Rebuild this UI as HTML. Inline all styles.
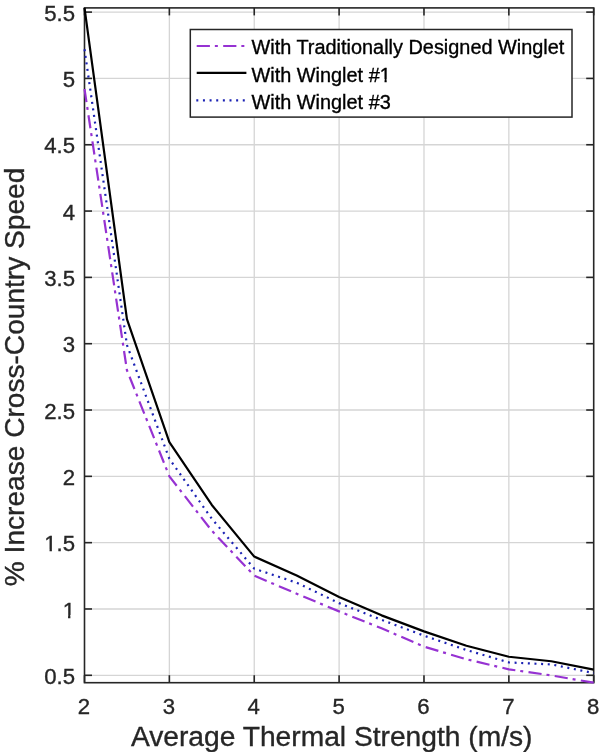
<!DOCTYPE html>
<html><head><meta charset="utf-8"><style>
html,body{margin:0;padding:0;background:#fff;}
svg{display:block;}
text{font-family:"Liberation Sans",Arial,Helvetica,sans-serif;fill:#262626;stroke:#262626;stroke-width:0.35px;}
text.lg{fill:#000;stroke:#000;}
</style></head><body>
<svg width="602" height="752" viewBox="0 0 602 752">
<rect width="602" height="752" fill="#fff"/>

<g stroke="#d5d5d5" stroke-width="1.3"><line x1="169.37" y1="7.9" x2="169.37" y2="682.7"/><line x1="254.24" y1="7.9" x2="254.24" y2="682.7"/><line x1="339.11" y1="7.9" x2="339.11" y2="682.7"/><line x1="423.98" y1="7.9" x2="423.98" y2="682.7"/><line x1="508.85" y1="7.9" x2="508.85" y2="682.7"/><line x1="84.5" y1="675.30" x2="593.7" y2="675.30"/><line x1="84.5" y1="608.98" x2="593.7" y2="608.98"/><line x1="84.5" y1="542.66" x2="593.7" y2="542.66"/><line x1="84.5" y1="476.34" x2="593.7" y2="476.34"/><line x1="84.5" y1="410.02" x2="593.7" y2="410.02"/><line x1="84.5" y1="343.70" x2="593.7" y2="343.70"/><line x1="84.5" y1="277.38" x2="593.7" y2="277.38"/><line x1="84.5" y1="211.06" x2="593.7" y2="211.06"/><line x1="84.5" y1="144.74" x2="593.7" y2="144.74"/><line x1="84.5" y1="78.42" x2="593.7" y2="78.42"/><line x1="84.5" y1="12.10" x2="593.7" y2="12.10"/></g>
<g stroke="#262626" stroke-width="1.6"><line x1="84.50" y1="682.7" x2="84.50" y2="675.2"/><line x1="84.50" y1="7.9" x2="84.50" y2="15.4"/><line x1="169.37" y1="682.7" x2="169.37" y2="675.2"/><line x1="169.37" y1="7.9" x2="169.37" y2="15.4"/><line x1="254.24" y1="682.7" x2="254.24" y2="675.2"/><line x1="254.24" y1="7.9" x2="254.24" y2="15.4"/><line x1="339.11" y1="682.7" x2="339.11" y2="675.2"/><line x1="339.11" y1="7.9" x2="339.11" y2="15.4"/><line x1="423.98" y1="682.7" x2="423.98" y2="675.2"/><line x1="423.98" y1="7.9" x2="423.98" y2="15.4"/><line x1="508.85" y1="682.7" x2="508.85" y2="675.2"/><line x1="508.85" y1="7.9" x2="508.85" y2="15.4"/><line x1="593.72" y1="682.7" x2="593.72" y2="675.2"/><line x1="593.72" y1="7.9" x2="593.72" y2="15.4"/><line x1="84.5" y1="675.30" x2="92.0" y2="675.30"/><line x1="593.7" y1="675.30" x2="586.2" y2="675.30"/><line x1="84.5" y1="608.98" x2="92.0" y2="608.98"/><line x1="593.7" y1="608.98" x2="586.2" y2="608.98"/><line x1="84.5" y1="542.66" x2="92.0" y2="542.66"/><line x1="593.7" y1="542.66" x2="586.2" y2="542.66"/><line x1="84.5" y1="476.34" x2="92.0" y2="476.34"/><line x1="593.7" y1="476.34" x2="586.2" y2="476.34"/><line x1="84.5" y1="410.02" x2="92.0" y2="410.02"/><line x1="593.7" y1="410.02" x2="586.2" y2="410.02"/><line x1="84.5" y1="343.70" x2="92.0" y2="343.70"/><line x1="593.7" y1="343.70" x2="586.2" y2="343.70"/><line x1="84.5" y1="277.38" x2="92.0" y2="277.38"/><line x1="593.7" y1="277.38" x2="586.2" y2="277.38"/><line x1="84.5" y1="211.06" x2="92.0" y2="211.06"/><line x1="593.7" y1="211.06" x2="586.2" y2="211.06"/><line x1="84.5" y1="144.74" x2="92.0" y2="144.74"/><line x1="593.7" y1="144.74" x2="586.2" y2="144.74"/><line x1="84.5" y1="78.42" x2="92.0" y2="78.42"/><line x1="593.7" y1="78.42" x2="586.2" y2="78.42"/><line x1="84.5" y1="12.10" x2="92.0" y2="12.10"/><line x1="593.7" y1="12.10" x2="586.2" y2="12.10"/><rect x="84.5" y="7.9" width="509.20" height="674.80" fill="none"/></g>
<polyline points="84.50,89.03 126.94,370.23 169.37,476.34 211.81,530.72 254.24,575.69 296.68,593.73 339.11,611.37 381.55,628.35 423.98,646.65 466.42,659.25 508.85,669.33 551.29,675.43 593.72,682.70" fill="none" stroke="#9632d2" stroke-width="2.2" stroke-dasharray="13.2 4.95 3 5.34" stroke-linejoin="round"/>
<polyline points="84.50,7.90 126.94,319.16 169.37,442.12 211.81,504.99 254.24,556.59 296.68,575.55 339.11,596.91 381.55,615.35 423.98,631.40 466.42,645.72 508.85,656.73 551.29,661.24 593.72,669.60" fill="none" stroke="#000" stroke-width="2.2" stroke-linejoin="round"/>
<polyline points="84.50,49.24 126.94,345.03 169.37,458.83 211.81,518.78 254.24,568.66 296.68,582.72 339.11,603.14 381.55,619.86 423.98,635.64 466.42,649.97 508.85,662.43 551.29,664.42 593.72,673.05" fill="none" stroke="#1b22b4" stroke-width="2.2" stroke-dasharray="2 4.64"/>
<g font-size="22.2"><text x="84.00" y="714.2" text-anchor="middle">2</text><text x="168.87" y="714.2" text-anchor="middle">3</text><text x="253.74" y="714.2" text-anchor="middle">4</text><text x="338.61" y="714.2" text-anchor="middle">5</text><text x="423.48" y="714.2" text-anchor="middle">6</text><text x="508.35" y="714.2" text-anchor="middle">7</text><text x="593.22" y="714.2" text-anchor="middle">8</text><text x="75" y="683.90" text-anchor="end">0.5</text><text x="75" y="617.58" text-anchor="end">1</text><text x="75" y="551.26" text-anchor="end">1.5</text><text x="75" y="484.94" text-anchor="end">2</text><text x="75" y="418.62" text-anchor="end">2.5</text><text x="75" y="352.30" text-anchor="end">3</text><text x="75" y="285.98" text-anchor="end">3.5</text><text x="75" y="219.66" text-anchor="end">4</text><text x="75" y="153.34" text-anchor="end">4.5</text><text x="75" y="87.02" text-anchor="end">5</text><text x="75" y="20.70" text-anchor="end">5.5</text></g>
<rect x="64" y="615" width="4.04" height="4" fill="#fff"/><rect x="70.40" y="615" width="4.60" height="4" fill="#fff"/>
<rect x="45" y="549" width="4.54" height="3" fill="#fff"/><rect x="51.90" y="549" width="4.10" height="3" fill="#fff"/>
<text x="130.9" y="745.6" font-size="28.2">Average Thermal Strength (m/s)</text>
<text transform="translate(24.2,586.2) rotate(-90)" font-size="28.1">% Increase Cross-Country Speed</text>
<rect x="190.3" y="29.5" width="381.7" height="87.6" fill="#fff" stroke="#262626" stroke-width="1.5"/>
<line x1="196.7" y1="46" x2="246" y2="46" stroke="#9632d2" stroke-width="2.2" stroke-dasharray="13.2 4.95 3 5.34"/>
<line x1="196.7" y1="72.8" x2="246.4" y2="72.8" stroke="#000" stroke-width="2.2"/>
<line x1="196.3" y1="100.3" x2="246" y2="100.3" stroke="#1b22b4" stroke-width="2.2" stroke-dasharray="2 4.64"/>
<g font-size="19.9" style="fill:#000;stroke:#000">
<text class="lg" x="251.5" y="54">With Traditionally Designed Winglet</text>
<text class="lg" x="251.5" y="81.6">With Winglet #1</text>
<text class="lg" x="251.5" y="108.9">With Winglet #3</text>
</g>
<rect x="380" y="79" width="4.52" height="4" fill="#fff"/><rect x="386.68" y="79" width="4.32" height="4" fill="#fff"/>
</svg></body></html>
